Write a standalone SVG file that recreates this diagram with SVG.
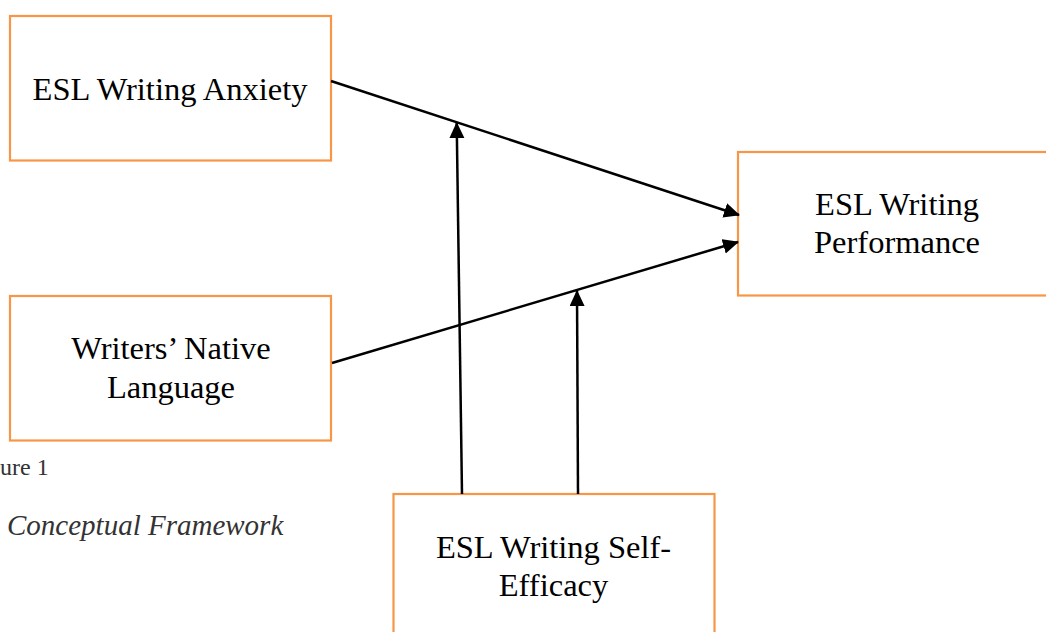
<svg xmlns="http://www.w3.org/2000/svg" width="1046" height="632" viewBox="0 0 1046 632">
<style>
.box{fill:#fff;stroke:#F79646;stroke-width:2.2}
.t{font-family:"Liberation Serif","Times New Roman",serif;font-size:32.5px;fill:#000;text-anchor:middle}
.cap{font-family:"Liberation Serif","Times New Roman",serif;fill:#333}
.c{fill:none;stroke:#000;stroke-width:2.5}
</style>
<defs>
<marker id="ah" markerUnits="userSpaceOnUse" markerWidth="17" markerHeight="16" refX="15" refY="7.5" orient="auto">
<path d="M0,0 L16,7.5 L0,15 z" fill="#000"/>
</marker>
</defs>
<rect width="1046" height="632" fill="#fff"/>
<g id="anxiety">
<rect class="box" x="10" y="16" width="321" height="144.5"/>
<text class="t" x="170" y="100">ESL Writing Anxiety</text>
</g>
<g id="native">
<rect class="box" x="10" y="296" width="321" height="144.5"/>
<text class="t" x="171" y="359">Writers’ Native</text>
<text class="t" x="171" y="398">Language</text>
</g>
<g id="performance">
<rect class="box" x="738" y="152" width="330" height="143.5"/>
<text class="t" x="897" y="215">ESL Writing</text>
<text class="t" x="897" y="253">Performance</text>
</g>
<g id="selfefficacy">
<rect class="box" x="393.5" y="494" width="321" height="200"/>
<text class="t" x="553.5" y="558">ESL Writing Self-</text>
<text class="t" x="553.5" y="596">Efficacy</text>
</g>
<g id="caption">
<text class="cap" x="0" y="475" font-size="24">ure 1</text>
<text class="cap" x="7" y="535" font-size="29" font-style="italic">Conceptual Framework</text>
</g>
<g id="connectors">
<line class="c" x1="331" y1="81" x2="739" y2="215" marker-end="url(#ah)"/>
<line class="c" x1="332" y1="363" x2="738" y2="242" marker-end="url(#ah)"/>
<line class="c" x1="462" y1="494" x2="456.7" y2="123" marker-end="url(#ah)"/>
<line class="c" x1="578" y1="494" x2="577" y2="291" marker-end="url(#ah)"/>
</g>
</svg>
